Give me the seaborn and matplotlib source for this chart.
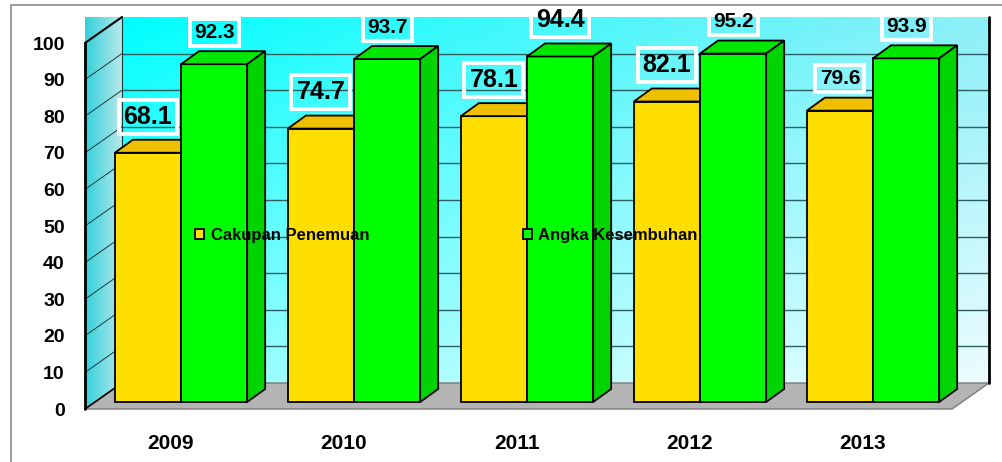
import matplotlib
matplotlib.use("Agg")
import matplotlib.pyplot as plt
from matplotlib.patches import Polygon, Rectangle
import seaborn as sns
import pandas as pd
import numpy as np

years = ["2009", "2010", "2011", "2012", "2013"]
cakupan = [68.1, 74.7, 78.1, 82.1, 79.6]
kesembuhan = [92.3, 93.7, 94.4, 95.2, 93.9]
series_names = ["Cakupan Penemuan", "Angka Kesembuhan"]
# value labels drawn with the big font in the original
big_cakupan = [True, True, True, True, False]
big_kesembuhan = [False, False, True, False, False]
yticks = list(range(0, 101, 10))

df = pd.DataFrame({
    "tahun": years * 2,
    "nilai": cakupan + kesembuhan,
    "seri": [series_names[0]] * len(years) + [series_names[1]] * len(years),
})

sns.set_theme(style="white")
plt.rcParams["font.family"] = ["Liberation Sans", "DejaVu Sans"]
plt.rcParams["font.weight"] = "bold"
plt.rcParams["text.color"] = "black"

W, H = 1003, 462
fig = plt.figure(figsize=(W / 100, H / 100), dpi=100)
fig.patch.set_facecolor("white")

# front plane of the fake 3d box (pixels)
fx0, fx1, fy0, fy1 = 85, 952, 409, 43
ax = fig.add_axes([fx0 / W, 1 - fy0 / H, (fx1 - fx0) / W, (fy0 - fy1) / H])
ux = 173.0                       # px per category
uy = (fy0 - fy1) / 100.0         # px per unit
xmin = -(171 - fx0) / ux
xmax = xmin + (fx1 - fx0) / ux

def px(dx, dy):
    return dx / ux, dy / uy

ddx, ddy = px(37, 26)    # box depth
bdx, bdy = px(10, 7)     # bar plane offset
sdx, sdy = px(18, 13)    # bar depth

# back wall with gradient
n = 60
gx = np.linspace(0, 1, n)[None, :]
gy = np.linspace(0, 1, n)[:, None]
tl, tr = np.array([0.0, 1.0, 1.0]), np.array([0.55, 0.94, 0.97])
bl, br = np.array([0.55, 1.0, 1.0]), np.array([0.93, 0.99, 1.0])
grad = ((1 - gx)[..., None] * ((1 - gy)[..., None] * tl + gy[..., None] * bl)
        + gx[..., None] * ((1 - gy)[..., None] * tr + gy[..., None] * br))
ax.imshow(grad, extent=(xmin + ddx, xmax + ddx, ddy, 100 + ddy), aspect="auto",
          zorder=0.5, clip_on=False, interpolation="bilinear")

# left wall
lw_poly = Polygon([(xmin, 0), (xmin + ddx, ddy), (xmin + ddx, 100 + ddy), (xmin, 100)],
                  closed=True, fc="none", ec="none", clip_on=False)
ax.add_patch(lw_poly)
lg = np.linspace(0, 1, n)[None, :, None]
lgrad = (1 - lg) * np.array([0.2, 0.82, 0.86]) + lg * np.array([0.72, 0.91, 0.92])
lgrad = np.repeat(lgrad, 4, axis=0)
im = ax.imshow(lgrad, extent=(xmin, xmin + ddx, 0, 100 + ddy), aspect="auto",
               zorder=0.6, clip_on=False, interpolation="bilinear")
im.set_clip_path(lw_poly)

for v in yticks[1:-1]:
    ax.plot([xmin + ddx, xmax + ddx], [v + ddy, v + ddy], color="#2d5e60", lw=1,
            zorder=1, clip_on=False)
    ax.plot([xmin, xmin + ddx], [v, v + ddy], color="#1a3a3a", lw=0.7,
            zorder=1, clip_on=False)

# floor
ax.add_patch(Polygon([(xmin, 0), (xmax, 0), (xmax + ddx, ddy), (xmin + ddx, ddy)],
                     closed=True, fc="#b4b4b4", ec="#7a7a7a", lw=1, zorder=1.5,
                     clip_on=False))
ax.plot([xmin, xmin], [0, 100], color="black", lw=2, zorder=2, clip_on=False)
ax.plot([xmin, xmin + ddx], [100, 100 + ddy], color="black", lw=1.5, zorder=2, clip_on=False)
ax.plot([xmin, xmin + ddx], [0, ddy], color="black", lw=1.2, zorder=2, clip_on=False)
ax.plot([xmin + ddx, xmin + ddx], [ddy, 100 + ddy], color="#1a3a3a", lw=0.8, zorder=2, clip_on=False)
ax.plot([xmax + ddx, xmax + ddx], [ddy, 100 + ddy], color="black", lw=2, zorder=2, clip_on=False)

front_cols = ["#ffdf00", "#00ff00"]
top_cols = ["#efc000", "#00e600"]
side_cols = ["#e0b800", "#00d400"]

sns.barplot(data=df, x="tahun", y="nilai", hue="seri", palette=front_cols,
            width=0.765, gap=0, saturation=1, edgecolor="black", linewidth=1.3,
            legend=False, ax=ax)

big = [big_cakupan, big_kesembuhan]
for k, cont in enumerate(ax.containers):
    z = 3 + k
    for j, p in enumerate(cont.patches):
        p.set_x(p.get_x() + bdx)
        p.set_y(bdy)
        p.set_zorder(z)
        p.set_clip_on(False)
        x0, w, h = p.get_x(), p.get_width(), p.get_height()
        top = bdy + h
        ax.add_patch(Polygon([(x0, top), (x0 + w, top), (x0 + w + sdx, top + sdy),
                              (x0 + sdx, top + sdy)], closed=True, fc=top_cols[k],
                             ec="black", lw=1.3, zorder=z, clip_on=False))
        ax.add_patch(Polygon([(x0 + w, bdy), (x0 + w, top), (x0 + w + sdx, top + sdy),
                              (x0 + w + sdx, bdy + sdy)], closed=True, fc=side_cols[k],
                             ec="black", lw=1.3, zorder=z, clip_on=False))
        isbig = big[k][j]
        ax.annotate(f"{h:.1f}", xy=(x0 + w / 2, top), xytext=(0, 26 if isbig else 23),
                    textcoords="offset points", ha="center", va="center",
                    fontsize=18 if isbig else 15, fontweight="bold", color="black",
                    zorder=8, annotation_clip=False,
                    bbox=dict(boxstyle="square,pad=0.2", fc="none", ec="white", lw=2.8))

ax.set_xlim(xmin, xmax)
ax.set_ylim(0, 100)
ax.set_yticks(yticks)
ax.set_facecolor("none")
for s in ax.spines.values():
    s.set_visible(False)
ax.set_xlabel("")
ax.set_ylabel("")
ax.tick_params(axis="y", length=0, pad=14.5, labelsize=14)
ax.tick_params(axis="x", length=0, pad=18, labelsize=15)
for t in ax.get_xticklabels() + ax.get_yticklabels():
    t.set_fontweight("bold")
    t.set_color("black")

leg = ax.legend(handles=list(ax.containers), labels=series_names, ncol=2,
                loc="center left", bbox_to_anchor=(195 / W, 1 - 235 / H),
                bbox_transform=fig.transFigure, frameon=False, borderpad=0,
                borderaxespad=0, handlelength=0.55, handleheight=0.55,
                handletextpad=0.4, columnspacing=9.2, labelcolor="black",
                prop={"family": ["Liberation Sans", "DejaVu Sans"], "size": 12, "weight": "bold"})
leg.set_zorder(9)

fig.add_artist(Rectangle((11 / W, -0.1), 1.2, 1 - 5 / H + 0.1, transform=fig.transFigure,
                         fill=False, ec="#8a8a8a", lw=1.2))

fig.savefig("out.png", dpi=100)
